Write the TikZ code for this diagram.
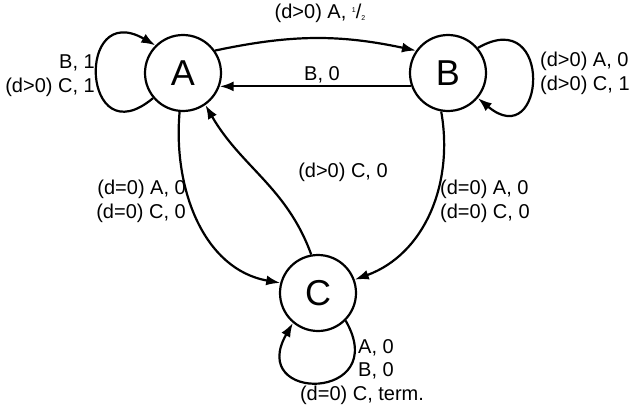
\documentclass[tikz,border=0pt]{standalone}
\usepackage{fontspec}
\setmainfont{Liberation Sans}
\usetikzlibrary{arrows.meta}
\begin{document}
\begin{tikzpicture}[x=1pt,y=-1pt,
 st/.style={circle,draw,line width=2.2pt,minimum size=76pt,inner sep=0pt,font=\fontsize{36}{36}\selectfont},
 ed/.style={draw,line width=2.2pt,-{Latex[length=14pt,width=10pt]}},
 lb/.style={font=\fontsize{20}{24}\selectfont,align=center,inner sep=0pt}]
\useasboundingbox (0,0) rectangle (640,415);
\node[st] (A) at (183,73) {A};
\node[st] (B) at (448,73) {B};
\node[st] (C) at (318,293) {C};
\draw[ed] (A.35) to[bend left=12] (B.145);
\draw[ed] (B.-160) -- (A.-20);
\draw[ed] (A.-95) to[out=-95,in=170] (C.165);
\draw[ed] (C.100) to[out=110,in=-60] (A.-55);
\draw[ed] (B.-100) to[out=-80,in=20] (C.20);
\draw[ed] (A.220) to[out=220,in=150,looseness=4.5] (A.135);
\draw[ed] (B.40) to[out=30,in=-40,looseness=4.5] (B.-40);
\draw[ed] (C.-45) to[out=-60,in=-120,looseness=4.5] (C.-130);
\node[lb] (l1) at (320,13) {(d>0) A, \raisebox{0.5ex}{\scriptsize 1}/\raisebox{-0.2ex}{\scriptsize 2}};
\node[lb] (l2) at (322,75) {B, 0};
\node[lb,align=right,anchor=east] (l3) at (95,76) {B, 1\\(d>0) C, 1};
\node[lb,align=left,anchor=west] (l4) at (540,73) {(d>0) A, 0\\(d>0) C, 1};
\node[lb] (l5) at (343,172) {(d>0) C, 0};
\node[lb,align=right,anchor=east] (l6) at (186,201) {(d=0) A, 0\\(d=0) C, 0};
\node[lb,align=left,anchor=west] (l7) at (440,201) {(d=0) A, 0\\(d=0) C, 0};
\node[lb,anchor=west] (l8) at (358,348) {A, 0};
\node[lb,anchor=west] (l9) at (358,371) {B, 0};
\node[lb] (l10) at (362,395) {(d=0) C, term.};
\end{tikzpicture}
\end{document}
